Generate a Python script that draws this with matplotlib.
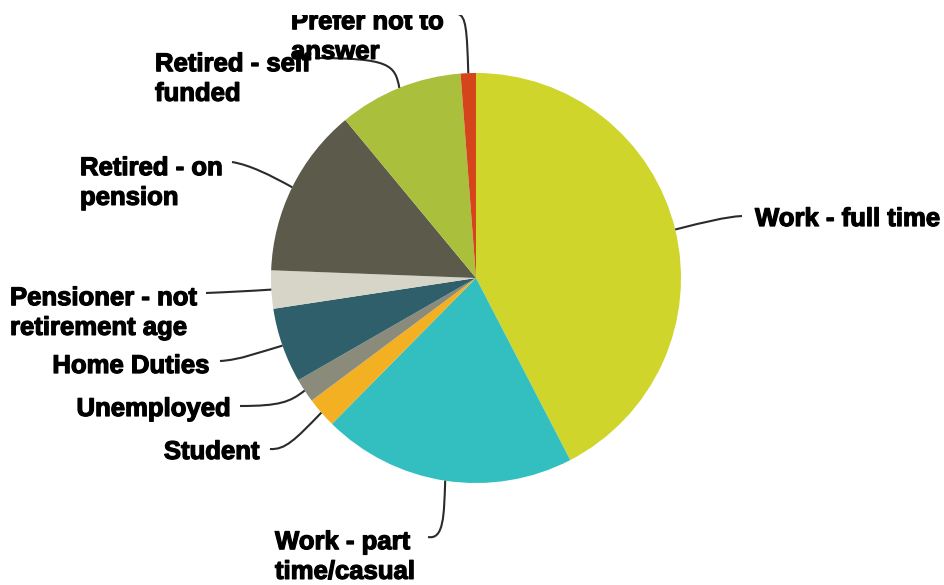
import matplotlib.pyplot as plt
import matplotlib.patheffects as pe
from matplotlib.path import Path
from matplotlib.patches import PathPatch
import numpy as np

# employment status, clockwise from 12 o'clock (percent of respondents)
labels = ["Work - full time", "Work - part\ntime/casual", "Student", "Unemployed",
          "Home Duties", "Pensioner - not\nretirement age", "Retired - on\npension",
          "Retired - self\nfunded", "Prefer not to\nanswer"]
shares = [42.4, 20.0, 2.4, 1.9, 5.9, 3.0, 13.4, 9.8, 1.2]
colors = ["#cfd52b", "#33bec0", "#f4b023", "#8b8b7c", "#2e5f6b",
          "#d6d5c8", "#5b5a4b", "#aabf3b", "#d4451c"]

# text anchor + alignment, leader line: two bezier control points and end point
label_pos = [
    ((755, 219), "left", (705, 222), (725, 217), (742, 216)),
    ((275, 557), "left", (444, 515), (444, 540), (428, 537)),
    ((260, 452), "right", (295, 440), (285, 450), (270, 449)),
    ((231, 409), "right", (290, 402), (280, 406), (240, 406)),
    ((210, 366), "right", (260, 352), (240, 360), (220, 361)),
    ((10, 313), "left", (250, 291), (230, 292), (206, 293)),
    ((80, 183), "left", (270, 175), (250, 165), (232, 162)),
    ((155, 79), "left", (395, 65), (390, 58), (315, 58)),
    ((291, 37), "left", (467, 30), (466, 16), (458, 14)),
]

fig = plt.figure(figsize=(9.45, 5.85), dpi=100)
# the plotting area starts a little below the top edge; labels are clipped to it
ax = fig.add_axes([0, 0, 1, 570 / 585])

cx, cy, r = 476, 278, 205
wedges, _ = ax.pie(shares, colors=colors, startangle=-90, counterclock=True,
                   center=(cx, cy), radius=r, frame=True,
                   wedgeprops=dict(linewidth=0))

ax.set_xlim(0, 945)
ax.set_ylim(585, 15)
ax.set_aspect("auto")
ax.axis("off")

heavy = [pe.withStroke(linewidth=0.9, foreground="black")]

for w, lab, (txt, ha, c1, c2, end) in zip(wedges, labels, label_pos):
    mid = np.deg2rad((w.theta1 + w.theta2) / 2)
    start = (cx + r * np.cos(mid), cy + r * np.sin(mid))
    leader = Path([start, c1, c2, end],
                  [Path.MOVETO, Path.CURVE4, Path.CURVE4, Path.CURVE4])
    ax.add_patch(PathPatch(leader, fill=False, edgecolor="#2b2b2b", lw=1.5,
                           clip_on=True))
    ax.text(txt[0], txt[1], lab, ha=ha, va="center", fontsize=18.5,
            fontweight="bold", family="Liberation Sans", linespacing=1.3,
            color="black", path_effects=heavy, clip_on=True)

fig.savefig("out.png", dpi=100, facecolor="white")
